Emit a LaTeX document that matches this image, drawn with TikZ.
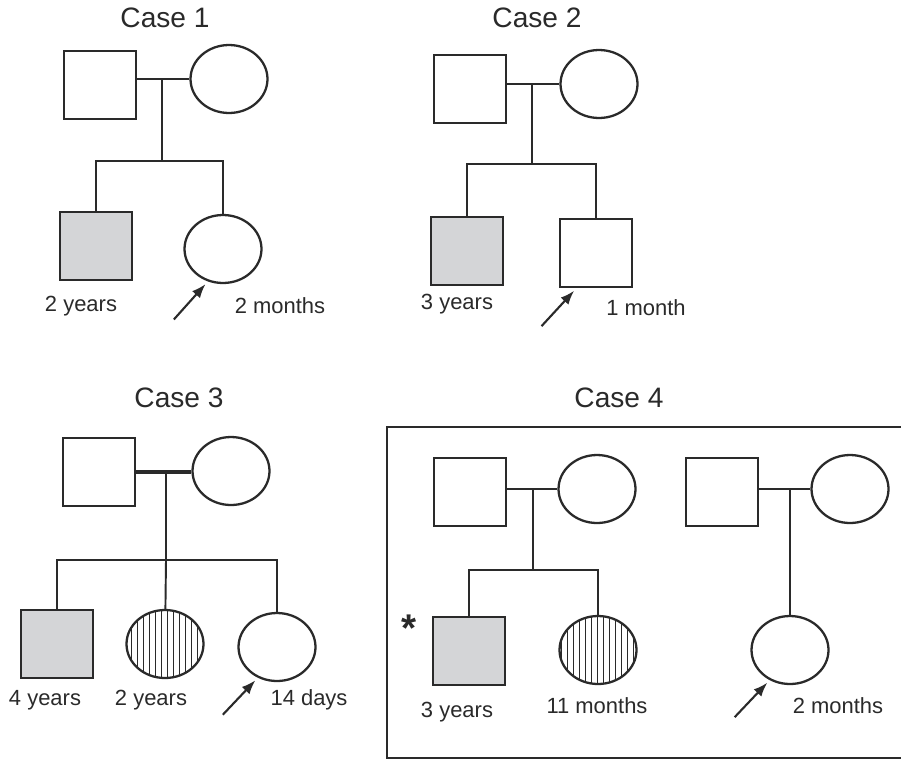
\documentclass[tikz,border=0pt]{standalone}
\usepackage{fontspec}
\setmainfont{Liberation Sans}
\usepackage{xcolor}
\usepackage{tikz}
\usetikzlibrary{patterns.meta,arrows.meta,shapes.geometric}
\definecolor{pedgray}{HTML}{D4D5D7}
\definecolor{pedink}{HTML}{2A2A2A}
\tikzset{
  pedmale/.style={rectangle,draw=pedink,line width=1.3pt,minimum width=1.44cm,minimum height=1.36cm,inner sep=0pt},
  pedfemale/.style={ellipse,draw=pedink,line width=1.3pt,minimum width=1.54cm,minimum height=1.36cm,inner sep=0pt},
  pedaff/.style={fill=pedgray},
  pedhatch/.style={pattern={Lines[angle=90,distance=3.4pt,line width=0.6pt]},pattern color=pedink},
  pedline/.style={draw=pedink,line width=1.1pt},
  pedarrow/.style={{Latex[length=8pt,width=6pt]}-,draw=pedink,line width=1.2pt,shorten <=2pt},
  pedlab/.style={font=\fontsize{12.5}{14}\selectfont,text=pedink},
  pedtitle/.style={font=\fontsize{16}{18}\selectfont,text=pedink}
}

\begin{document}
\begin{tikzpicture}[x=0.02cm,y=-0.02cm]
  \useasboundingbox (0,0) rectangle (901,761);
  % Case 1
  \node[pedtitle] (t1) at (165,18) {Case 1};
  \node[pedmale] (f1) at (100,85) {};
  \node[pedfemale] (m1) at (229,79) {};
  \node[pedmale,pedaff] (c11) at (96,246) {};
  \node[pedfemale] (c12) at (223,249) {};
  \coordinate (j1) at (162,79);
  \coordinate (s1) at (162,161);
  \draw[pedline] (f1.east |- m1) -- (m1);
  \draw[pedline] (j1) -- (s1);
  \draw[pedline] (c11) |- (s1) -| (c12);
  \draw[pedarrow] (c12.-115) -- ++(-34,38);
  \node[pedlab] (l11) at (81,306) {2 years};
  \node[pedlab] (l12) at (280,306) {2 months};
  % Case 2
  \node[pedtitle] (t2) at (537,18) {Case 2};
  \node[pedmale] (f2) at (470,89) {};
  \node[pedfemale] (m2) at (599,84) {};
  \node[pedmale,pedaff] (c21) at (467,251) {};
  \node[pedmale] (c22) at (596,253) {};
  \coordinate (j2) at (532,84);
  \coordinate (s2) at (532,164);
  \draw[pedline] (f2.east |- m2) -- (m2);
  \draw[pedline] (j2) -- (s2);
  \draw[pedline] (c21) |- (s2) -| (c22);
  \draw[pedarrow] (c22.-119) -- ++(-35,38);
  \node[pedlab] (l21) at (457,304) {3 years};
  \node[pedlab] (l22) at (646,308) {1 month};
  % Case 3
  \node[pedtitle] (t3) at (179,398) {Case 3};
  \node[pedmale] (f3) at (99,472) {};
  \node[pedfemale] (m3) at (231,471) {};
  \node[pedmale,pedaff] (c31) at (57,644) {};
  \node[pedfemale,pedhatch] (c32) at (165,644) {};
  \node[pedfemale] (c33) at (277,647) {};
  \coordinate (j3) at (166,472);
  \coordinate (s3) at (166,560);
  \draw[pedline,line width=1.8pt] (f3.east |- j3) -- (m3.west |- j3);
  \draw[pedline] (j3) -- (s3) -- (c32);
  \draw[pedline] (c31) |- (s3) -| (c33);
  \draw[pedarrow] (c33.-122) -- ++(-35,37);
  \node[pedlab] (l31) at (45,700) {4 years};
  \node[pedlab] (l32) at (151,700) {2 years};
  \node[pedlab] (l33) at (309,700) {14 days};
  % Case 4
  \node[pedtitle] (t4) at (619,398) {Case 4};
  \draw[pedink,line width=1.3pt] (901,427) -- (387,427) -- (387,758) -- (901,758);
  \node[pedmale] (f4) at (470,492) {};
  \node[pedfemale] (m4) at (597,489) {};
  \node[pedmale,pedaff] (c41) at (469,651) {};
  \node[pedfemale,pedhatch] (c42) at (598,650) {};
  \coordinate (j4) at (533,488);
  \coordinate (s4) at (533,570);
  \draw[pedline] (f4.east |- m4) -- (m4);
  \draw[pedline] (j4) -- (s4);
  \draw[pedline] (c41) |- (s4) -| (c42);
  \node[font=\fontsize{22}{22}\selectfont\bfseries,text=pedink,anchor=base] (ast) at (409,641) {*};
  \node[pedlab] (l41) at (457,712) {3 years};
  \node[pedlab] (l42) at (597,706) {11 months};
  \node[pedmale] (f5) at (722,492) {};
  \node[pedfemale] (m5) at (850,489) {};
  \node[pedfemale] (c51) at (790,650) {};
  \coordinate (j5) at (790,488);
  \draw[pedline] (f5.east |- m5) -- (m5);
  \draw[pedline] (j5) -- (c51);
  \draw[pedarrow] (c51.-124) -- ++(-35,37);
  \node[pedlab] (l51) at (838,706) {2 months};
\end{tikzpicture}
\end{document}
